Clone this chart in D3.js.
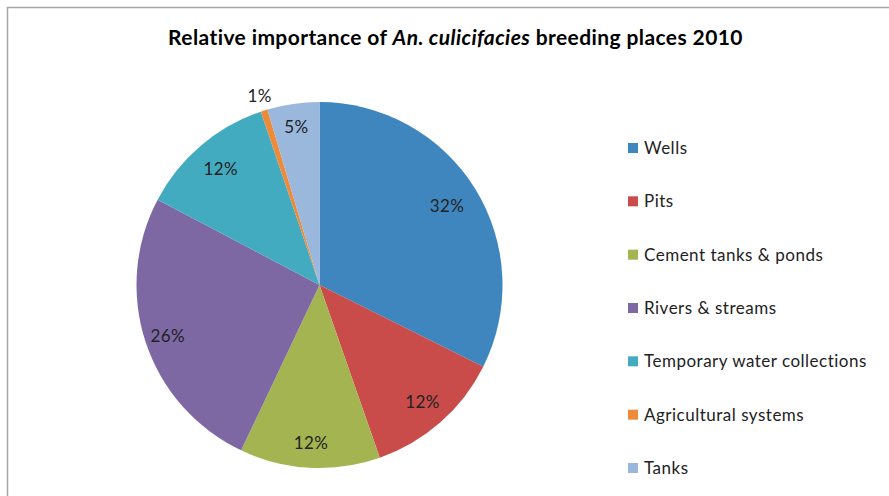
<!DOCTYPE html>
<html><head><meta charset="utf-8">
<script src="https://cdn.jsdelivr.net/npm/d3@7"></script>
<style>body{margin:0;background:#fff}svg{display:block}</style>
</head><body>
<svg id="c" width="889" height="496"></svg>
<script>
const categories = ["Wells","Pits","Cement tanks & ponds","Rivers & streams","Temporary water collections","Agricultural systems","Tanks"];
const values = [32.4, 12.3, 12.4, 25.7, 12.1, 0.6, 4.6];
const labels = ["32%","12%","12%","26%","12%","1%","5%"];
const colors = ["#3f86bf","#c94c4b","#a4b450","#7d68a4","#43abc0","#ee8b3a","#9ab7dc"];

const svg = d3.select("#c");
const font = "Lato, 'Open Sans', sans-serif";
// frame
svg.append("path").attr("d","M7.5,496 L7.5,7.5 L889,7.5").attr("fill","none").attr("stroke","#a6a6a6").attr("stroke-width",1.5);

// title
const t = svg.append("text").attr("x",455.5).attr("y",45).attr("text-anchor","middle")
  .attr("font-family",font).attr("font-size",21).attr("letter-spacing",0.4).attr("font-weight","bold").attr("fill","#000");
t.append("tspan").text("Relative importance of ");
t.append("tspan").attr("font-style","italic").text("An. culicifacies");
t.append("tspan").text(" breeding places 2010");

const cx = 319.5, cy = 285, r = 183;
const pie = d3.pie().sort(null).value(d=>d)(values);
const arc = d3.arc().innerRadius(0).outerRadius(r);
const g = svg.append("g").attr("transform",`translate(${cx},${cy})`);
g.selectAll("path").data(pie).join("path").attr("d",arc).attr("fill",(d,i)=>colors[i]);

const labR = [150,156,158,160,152,198,160];
g.selectAll("text").data(pie).join("text")
  .attr("transform",(d,i)=>{const c=d3.arc().innerRadius(labR[i]).outerRadius(labR[i]).centroid(d);return `translate(${c[0]},${c[1]})`;})
  .attr("text-anchor","middle").attr("dy","0.35em")
  .attr("font-family",font).attr("font-size",17).attr("letter-spacing",0.4).attr("fill","#222")
  .text((d,i)=>labels[i]);

// legend
const ly = d3.scalePoint().domain(categories).range([148,468]);
const lg = svg.append("g");
categories.forEach((c,i)=>{
  lg.append("rect").attr("x",628).attr("y",ly(c)-5).attr("width",10).attr("height",10).attr("fill",colors[i]);
  lg.append("text").attr("x",644).attr("y",ly(c)).attr("dy","0.35em")
    .attr("font-family",font).attr("font-size",17).attr("letter-spacing",0.5).attr("fill","#222").text(c);
});
</script>
</body></html>
